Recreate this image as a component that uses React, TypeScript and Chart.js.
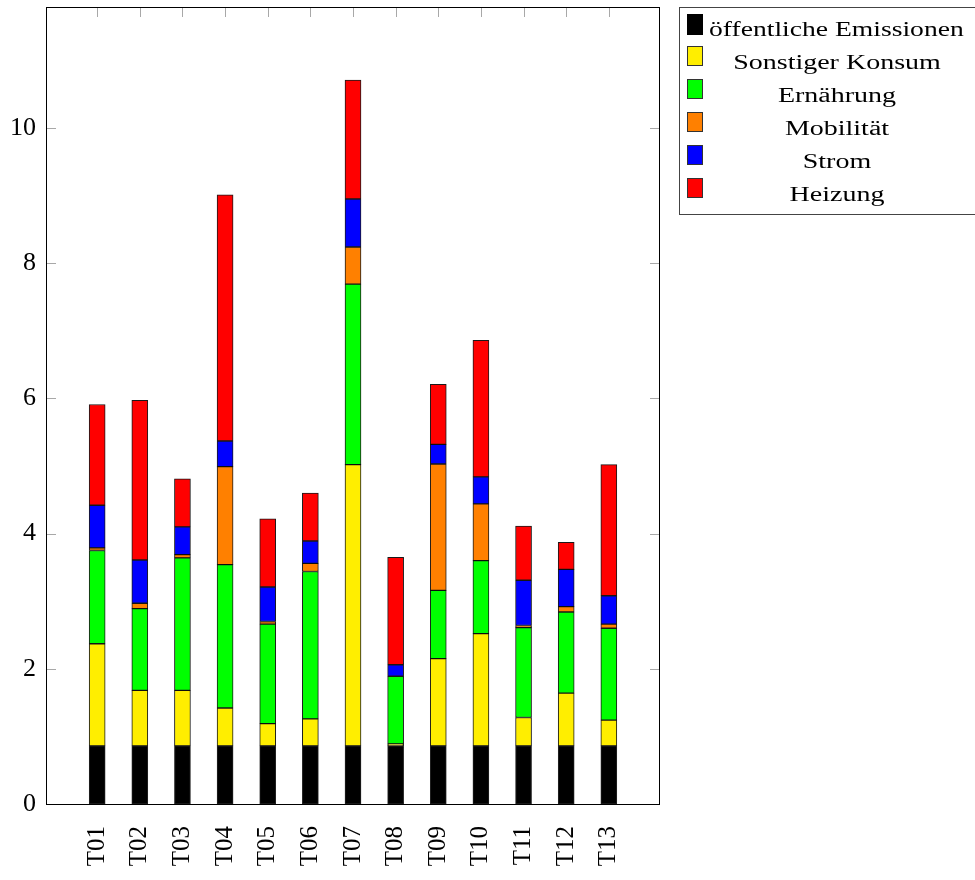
import React, { useEffect, useRef } from "react";
import { Chart, registerables } from "chart.js";

Chart.register(...registerables);

const categories = ["T01", "T02", "T03", "T04", "T05", "T06", "T07", "T08", "T09", "T10", "T11", "T12", "T13"];
const seriesNames = ["öffentliche Emissionen", "Sonstiger Konsum", "Ernährung", "Mobilität", "Strom", "Heizung"];
const seriesColors = ["#000000", "#ffee00", "#00ff00", "#ff8000", "#0000ff", "#ff0000"];

const oeffentlich = [0.86, 0.86, 0.86, 0.86, 0.86, 0.86, 0.86, 0.86, 0.86, 0.86, 0.86, 0.86, 0.86];
const konsum = [1.51, 0.82, 0.82, 0.56, 0.33, 0.4, 4.16, 0.03, 1.29, 1.66, 0.42, 0.78, 0.38];
const ernaehrung = [1.38, 1.21, 1.96, 2.12, 1.47, 2.18, 2.67, 1.0, 1.01, 1.08, 1.33, 1.2, 1.36];
const mobilitaet = [0.04, 0.08, 0.05, 1.45, 0.04, 0.12, 0.55, 0, 1.87, 0.84, 0.03, 0.08, 0.06];
const strom = [0.63, 0.64, 0.41, 0.38, 0.51, 0.33, 0.71, 0.17, 0.29, 0.4, 0.67, 0.55, 0.42];
const heizung = [1.49, 2.36, 0.71, 3.64, 1.01, 0.71, 1.76, 1.59, 0.89, 2.02, 0.8, 0.4, 1.94];

const yTicks = [0, 2, 4, 6, 8, 10];
const Y_MAX = 11.79;

const seriesValues = [oeffentlich, konsum, ernaehrung, mobilitaet, strom, heizung];

const framePlugin = {
  id: "frameTicks",
  beforeDatasetsDraw(chart: any) {
    const { ctx, chartArea } = chart;
    const { left, right, top, bottom } = chartArea;
    const ys = chart.scales.y;
    const xs = chart.scales.x;
    ctx.save();
    ctx.strokeStyle = "#a8a8a8";
    ctx.lineWidth = 1;
    const L = 10;
    yTicks.forEach((t) => {
      const y = Math.round(ys.getPixelForValue(t)) + 0.5;
      ctx.beginPath();
      ctx.moveTo(left, y);
      ctx.lineTo(left + L, y);
      ctx.moveTo(right - L, y);
      ctx.lineTo(right, y);
      ctx.stroke();
    });
    categories.forEach((_, i) => {
      const x = Math.round(xs.getPixelForValue(i)) + 0.5;
      ctx.beginPath();
      ctx.moveTo(x, top);
      ctx.lineTo(x, top + L);
      ctx.moveTo(x, bottom - L);
      ctx.lineTo(x, bottom);
      ctx.stroke();
    });
    ctx.restore();
  },
  afterDatasetsDraw(chart: any) {
    const { ctx, chartArea } = chart;
    const { left, right, top, bottom } = chartArea;
    ctx.save();
    ctx.strokeStyle = "#000";
    ctx.lineWidth = 1;
    ctx.strokeRect(Math.round(left) + 0.5, Math.round(top) + 0.5, Math.round(right - left) - 1, Math.round(bottom - top));
    ctx.restore();
  },
};

export default function App() {
  const ref = useRef<HTMLCanvasElement>(null);

  useEffect(() => {
    const canvas = ref.current;
    if (!canvas) return;
    const datasets = seriesNames.map((name, s) => ({
      label: name,
      data: seriesValues[s].map((v, i) => ({ x: i, y: v === 0 ? null : v })),
      backgroundColor: seriesColors[s],
      borderColor: s === 0 ? "#222" : "rgba(0,0,0,0.9)",
      borderWidth: 1,
      borderSkipped: false,
      barThickness: 16,
    }));
    const chart = new Chart(canvas, {
      type: "bar",
      data: { datasets: datasets as any },
      options: {
        animation: false,
        responsive: false,
        devicePixelRatio: 1,
        layout: { padding: { top: 7, right: 315, left: 0, bottom: 0 } },
        plugins: { legend: { display: false }, tooltip: { enabled: false } },
        scales: {
          x: {
            type: "linear",
            stacked: true,
            min: -1.2,
            max: 13.2,
            offset: false,
            grid: { display: false, drawTicks: false },
            border: { display: false },
            afterBuildTicks: (scale: any) => {
              scale.ticks = categories.map((_, i) => ({ value: i }));
            },
            afterFit: (scale: any) => {
              scale.height = 76;
              scale.paddingLeft = 0;
              scale.paddingRight = 0;
              scale.paddingTop = 0;
              scale.paddingBottom = 0;
            },
            ticks: {
              autoSkip: false,
              maxRotation: 90,
              minRotation: 90,
              padding: 22,
              color: "#000",
              font: { family: "'Liberation Serif', serif", size: 25 },
              callback: (v: any) => categories[v as number] ?? "",
            },
          },
          y: {
            stacked: true,
            min: 0,
            max: Y_MAX,
            grid: { display: false, drawTicks: false },
            border: { display: false },
            afterBuildTicks: (scale: any) => {
              scale.ticks = yTicks.map((v) => ({ value: v }));
            },
            afterFit: (scale: any) => {
              scale.width = 46;
              scale.paddingTop = 0;
              scale.paddingBottom = 0;
              scale.paddingLeft = 0;
              scale.paddingRight = 0;
            },
            ticks: {
              padding: 10,
              color: "#000",
              font: { family: "'Liberation Serif', serif", size: 26 },
            },
          },
        },
      },
      plugins: [framePlugin],
    });
    return () => chart.destroy();
  }, []);

  const legendLeft = 679;
  const legendTop = 7;
  const rowGap = 32.9;

  return (
    <div style={{ position: "absolute", left: 0, top: 0, width: 975, height: 880, background: "#fff", overflow: "hidden" }}>
      <canvas ref={ref} width={975} height={880} style={{ position: "absolute", left: 0, top: 0, width: 975, height: 880 }} />
      <div
        style={{
          position: "absolute",
          left: legendLeft,
          top: legendTop,
          width: 310,
          height: 208,
          border: "1px solid #444",
          boxSizing: "border-box",
          fontFamily: "'Liberation Serif', serif",
          fontSize: 20,
          color: "#000",
        }}
      >
        {seriesNames.map((name, k) => {
          const swTop = 13.5 + rowGap * k - legendTop - 1;
          const baseline = 36 + rowGap * k - legendTop - 1;
          const first = k === 0;
          return (
            <React.Fragment key={name}>
              <div
                style={{
                  position: "absolute",
                  left: 687 - legendLeft - 1,
                  top: swTop,
                  width: 16,
                  height: first ? 21 : 20,
                  background: seriesColors[k],
                  border: first ? "none" : "1px solid #333",
                  boxSizing: "border-box",
                }}
              />
              <span
                style={{
                  position: "absolute",
                  left: first ? 709 - legendLeft - 1 : 837 - legendLeft - 1,
                  top: baseline - 16.8,
                  lineHeight: "20px",
                  whiteSpace: "nowrap",
                  transformOrigin: first ? "left center" : "center center",
                  transform: first ? "scaleX(1.38)" : "translateX(-50%) scaleX(1.4)",
                }}
              >
                {name}
              </span>
            </React.Fragment>
          );
        })}
      </div>
    </div>
  );
}
